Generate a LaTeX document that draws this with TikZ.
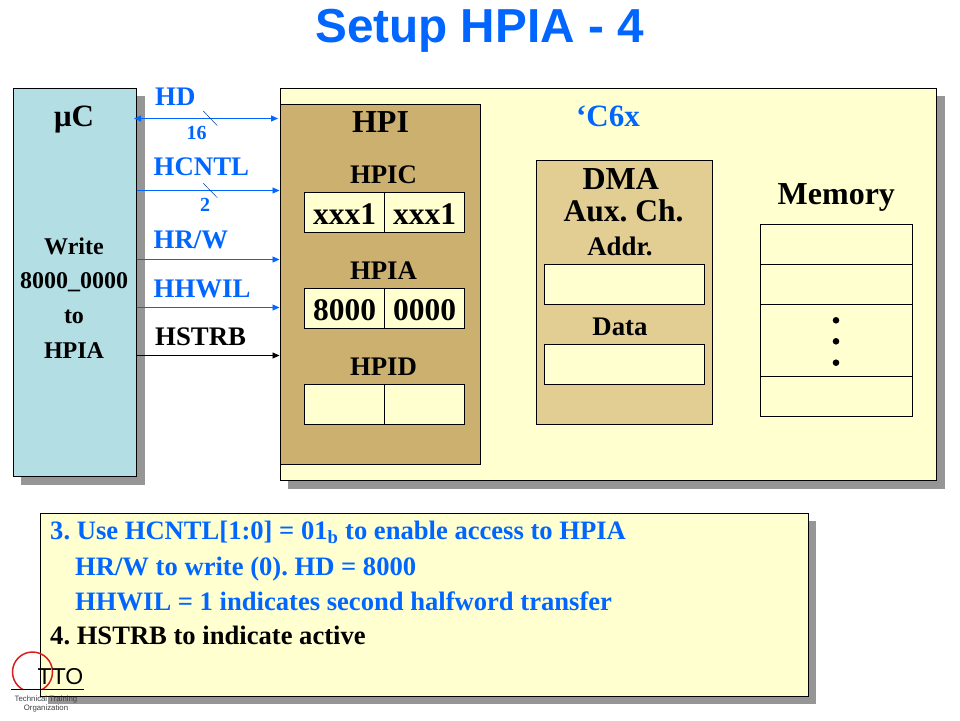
\documentclass[tikz,border=0pt]{standalone}
\usepackage{fontspec}
\setmainfont{Liberation Serif}
\newfontfamily\hv{Liberation Sans}
\usetikzlibrary{arrows.meta}
\definecolor{bluetxt}{RGB}{0,102,255}
\definecolor{sig}{RGB}{0,102,255}
\definecolor{ylw}{RGB}{255,255,208}
\definecolor{cyn}{RGB}{178,222,228}
\definecolor{tan1}{RGB}{203,176,112}
\definecolor{tan2}{RGB}{226,206,146}
\definecolor{shadow}{RGB}{150,150,150}
\definecolor{logored}{RGB}{220,30,30}
\begin{document}
\frenchspacing
\begin{tikzpicture}[x=1pt,y=-1pt,
 panel/.style={draw=black,line width=0.9pt,inner sep=0,outer sep=0,anchor=north west},
 lbl/.style={inner sep=0,text=black,anchor=base},
 cell/.style={draw=black,line width=0.9pt,fill=ylw,inner sep=0,outer sep=0,anchor=north west,font=\bfseries\fontsize{31.5}{31.5}\selectfont,text height=24pt,text depth=0pt},
 sigl/.style={font=\bfseries\fontsize{26.8}{26.8}\selectfont,inner sep=0,anchor=base west},
 wire/.style={line width=0.9pt,-{Triangle[length=7pt,width=6pt]}},
 big/.style={font=\bfseries\fontsize{32}{32}\selectfont},
 mid/.style={font=\bfseries\fontsize{26.8}{26.8}\selectfont},
 uctext/.style={font=\bfseries\fontsize{24}{24}\selectfont},
 nt/.style={font=\bfseries\fontsize{26.6}{26.6}\selectfont,inner sep=0,anchor=base west},
 tiny/.style={font=\hv\fontsize{7.8}{7.8}\selectfont,inner sep=0,text=black!75,anchor=base}]
\useasboundingbox (0,0) rectangle (960,720);
\fill[white] (0,0) rectangle (960,720);
% panels
\fill[shadow] (21,96) rectangle (145,485);
\node[panel,fill=cyn,minimum width=123,minimum height=388] (uc) at (13.5,88.5) {};
\fill[shadow] (288,96) rectangle (945,489);
\node[panel,fill=ylw,minimum width=656,minimum height=392] (chip) at (280.5,88.5) {};
\node[panel,fill=tan1,minimum width=200,minimum height=360] (hpi) at (280.5,104.5) {};
\node[panel,fill=tan2,minimum width=176,minimum height=264] (dma) at (536.5,160.5) {};
\fill[shadow] (48,521) rectangle (816,704);
\node[panel,fill=ylw,minimum width=768,minimum height=183] (note) at (40.5,513.5) {};
% title
\node[font=\hv\bfseries\fontsize{47.7}{47.7}\selectfont,text=bluetxt,inner sep=0,anchor=base] (title) at (479.5,42) {Setup HPIA - 4};
% uC
\node[lbl,font=\bfseries\fontsize{31}{31}\selectfont] (ucl) at (74,126) {μC};
\node[lbl,uctext] (w1) at (74,254) {Write};
\node[lbl,uctext] (w2) at (74,288) {8000\_0000};
\node[lbl,uctext] (w3) at (74,323) {to};
\node[lbl,uctext] (w4) at (74,358.5) {HPIA};
% signals
\coordinate (hdL) at (134,118.5);\coordinate (hdR) at (278,118.5);
\draw[sig,line width=0.9pt,{Triangle[length=7pt,width=6pt]}-{Triangle[length=7pt,width=6pt]}] (hdL)--(hdR);
\coordinate (s1a) at (203.3,111);\coordinate (s1b) at (217.3,125.7);\draw[sig!60!black,line width=0.5pt] (s1a)--(s1b);
\coordinate (cL) at (137,190.5);\coordinate (cR) at (279.5,190.5);
\draw[sig,wire] (cL)--(cR);
\coordinate (s2a) at (203.3,183.3);\coordinate (s2b) at (217.3,197.7);\draw[sig!60!black,line width=0.5pt] (s2a)--(s2b);
\coordinate (rL) at (137,259.5);\coordinate (rR) at (279.5,259.5);\draw[sig,wire] (rL)--(rR);
\coordinate (wL) at (137,307.5);\coordinate (wR) at (279.5,307.5);\draw[sig,wire] (wL)--(wR);
\coordinate (sL) at (137,355.5);\coordinate (sR) at (279.5,355.5);\draw[black,wire] (sL)--(sR);
\node[sigl,text=bluetxt] (hd) at (155,105) {HD};
\node[lbl,font=\bfseries\fontsize{20}{20}\selectfont,text=bluetxt] (n16) at (196.5,139) {16};
\node[sigl,text=bluetxt] (hc) at (153.5,175) {HCNTL};
\node[lbl,font=\bfseries\fontsize{20}{20}\selectfont,text=bluetxt] (n2) at (205,211) {2};
\node[sigl,text=bluetxt] (hr) at (153.5,248) {HR/W};
\node[sigl,text=bluetxt] (hh) at (153.5,297) {HHWIL};
\node[sigl] (hs) at (155,345) {HSTRB};
% HPI
\node[lbl,big] (hpil) at (380.5,132) {HPI};
\node[lbl,mid] (hpic) at (383.5,183) {HPIC};
\node[cell,minimum width=80,minimum height=40] (c1) at (304.5,192.5) {xxx1};
\node[cell,minimum width=80,minimum height=40] (c2) at (384.5,192.5) {xxx1};
\node[lbl,mid] (hpia) at (383.5,279) {HPIA};
\node[cell,minimum width=80,minimum height=40] (a1) at (304.5,288.5) {8000};
\node[cell,minimum width=80,minimum height=40] (a2) at (384.5,288.5) {0000};
\node[lbl,mid] (hpid) at (383.5,375) {HPID};
\node[cell,minimum width=80,minimum height=40] (d1) at (304.5,384.5) {};
\node[cell,minimum width=80,minimum height=40] (d2) at (384.5,384.5) {};
% C6x
\node[lbl,font=\bfseries\fontsize{31}{31}\selectfont,text=bluetxt] (c6x) at (608,126) {‘C6x};
% DMA
\node[lbl,big] (dmal) at (620.8,189) {DMA};
\node[lbl,font=\bfseries\fontsize{31.5}{31.5}\selectfont] (aux) at (623.5,221) {Aux. Ch.};
\node[lbl,mid] (addr) at (620,255.5) {Addr.};
\node[cell,minimum width=160,minimum height=40] (ad) at (544.5,264.5) {};
\node[lbl,mid] (data) at (620,335) {Data};
\node[cell,minimum width=160,minimum height=40] (da) at (544.5,344.5) {};
% Memory
\node[lbl,big] (mem) at (836.3,204) {Memory};
\node[cell,minimum width=152,minimum height=40] (m1) at (760.5,224.5) {};
\node[cell,minimum width=152,minimum height=40] (m2) at (760.5,264.5) {};
\node[cell,minimum width=152,minimum height=72] (m3) at (760.5,304.5) {};
\node[cell,minimum width=152,minimum height=40] (m4) at (760.5,376.5) {};
\fill (836,320.3) circle (3.3);\fill (836,341.3) circle (3.3);\fill (836,362.7) circle (3.3);
% notes
\node[nt,text=bluetxt] (t1) at (50,539.5) {3. Use HCNTL[1:0] = 01\textsubscript{b} to enable access to HPIA};
\node[nt,text=bluetxt] (t2) at (75,575) {HR/W to write (0). HD = 8000};
\node[nt,text=bluetxt] (t3) at (75,610) {HHWIL = 1 indicates second halfword transfer};
\node[nt] (t4) at (50,644.5) {4. HSTRB to indicate active};
% logo
\coordinate (lc) at (32.5,672);
\begin{scope}
\clip (0,640) rectangle (70,689.5);
\draw[logored,line width=1.5pt] (lc) circle (20);
\end{scope}
\node[lbl,font=\hv\fontsize{23}{23}\selectfont] (tto) at (60.5,684) {TTO};
\coordinate (la) at (11,689.5);\coordinate (lb) at (84,689.5);
\draw[black,line width=0.7pt] (la)--(lb);
\node[tiny] (org1) at (46,701.7) {Technical Training};
\node[tiny] (org2) at (46,710.7) {Organization};
\end{tikzpicture}
\end{document}
